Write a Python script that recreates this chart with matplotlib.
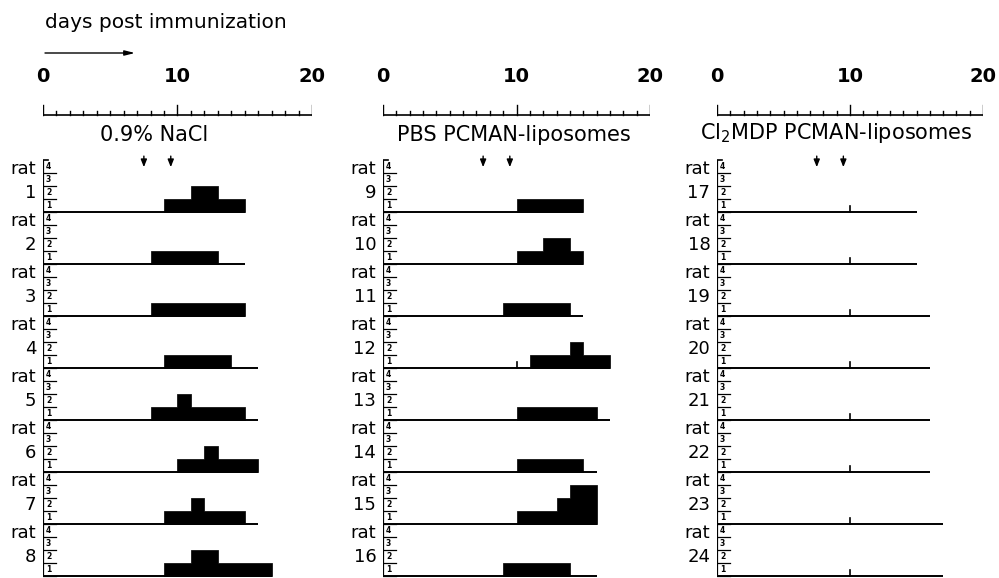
import matplotlib
matplotlib.use("Agg")
import matplotlib.pyplot as plt

plt.rcParams['font.family'] = ['DejaVu Sans']

# ---------------- data ----------------
groups = ["0.9% NaCl", "PBS PCMAN-liposomes", "Cl$_2$MDP PCMAN-liposomes"]
rat_ids = [list(range(1, 9)), list(range(9, 17)), list(range(17, 25))]

# first day with clinical signs (None = no signs)
onset_days = [
    [9, 8, 8, 9, 8, 10, 9, 9],
    [10, 10, 9, 11, 10, 10, 10, 9],
    [None, None, None, None, None, None, None, None],
]
# daily clinical scores from onset day on
daily_scores = [
    [[1, 1, 2, 2, 1, 1],
     [1, 1, 1, 1, 1],
     [1, 1, 1, 1, 1, 1, 1],
     [1, 1, 1, 1, 1],
     [1, 1, 2, 1, 1, 1, 1],
     [1, 1, 2, 1, 1, 1],
     [1, 1, 2, 1, 1, 1],
     [1, 1, 2, 2, 1, 1, 1, 1]],
    [[1, 1, 1, 1, 1],
     [1, 1, 2, 2, 1],
     [1, 1, 1, 1, 1],
     [1, 1, 1, 2, 1, 1],
     [1, 1, 1, 1, 1, 1],
     [1, 1, 1, 1, 1],
     [1, 1, 1, 2, 3, 3],
     [1, 1, 1, 1, 1]],
    [[], [], [], [], [], [], [], []],
]
# last day of observation
obs_end = [
    [15, 15, 15, 16, 16, 16, 16, 17],
    [15, 15, 15, 17, 17, 16, 16, 16],
    [15, 15, 16, 16, 16, 16, 17, 17],
]
# rats with a small mark at day 10
marked_rats = [12, 17, 18, 19, 20, 21, 22, 23, 24]
mark_day = 10
injection_days = [7.5, 9.5]
scale_labels = [0, 10, 20]
score_levels = [1, 2, 3, 4]

# ---------------- layout ----------------
W, H = 999, 578
fig = plt.figure(figsize=(W / 100, H / 100), dpi=100)

day0_px = [43, 383, 717]
day20_px = [312, 650, 983]
title_x = [8.25, 9.8, 8.95]
title_y = [33.9, 33.9, 34.1]
LV = 13.0  # pixels per score level
ybot = -2 / LV
ytop = ybot + H / LV

for p in range(3):
    ax = fig.add_axes([day0_px[p] / W, 0, (day20_px[p] - day0_px[p]) / W, 1])
    ax.set_xlim(0, 20)
    ax.set_ylim(ybot, ytop)
    ax.axis('off')

    # ruler
    ry = (H - 115 - 2) / LV
    ax.plot([0, 20], [ry, ry], color='black', lw=1.2, solid_capstyle='butt')
    for d in range(21):
        h = 0.77 if d in scale_labels else 0.32
        ax.plot([d, d], [ry, ry + h], color='black', lw=1.0)
    for d in scale_labels:
        ax.text(d, (H - 77 - 2) / LV, str(d), ha='center', va='center',
                fontsize=14, fontweight='bold')
    ax.text(title_x[p], title_y[p], groups[p], ha='center', va='center', fontsize=15)

    for d in injection_days:
        ax.annotate('', xy=(d, 31.45), xytext=(d, 32.3),
                    arrowprops=dict(arrowstyle='-|>,head_width=0.18,head_length=0.45',
                                    color='black', lw=1.0, mutation_scale=10,
                                    shrinkA=0, shrinkB=0))

    # vertical score axis
    ax.plot([0, 0], [0, 32], color='black', lw=1.6, solid_capstyle='butt')
    ax.plot([0, 0.4], [32, 32], color='black', lw=1.2)

    for r in range(8):
        base = (7 - r) * 4
        rid = rat_ids[p][r]
        ax.plot([0, obs_end[p][r]], [base, base], color='black', lw=1.4,
                solid_capstyle='butt')
        sc = daily_scores[p][r]
        if sc:
            on = onset_days[p][r]
            xs = [on + i for i in range(len(sc) + 1)]
            ys = [base + s for s in sc] + [base + sc[-1]]
            ax.fill_between(xs, base, ys, step='post', color='black', lw=0.5,
                            edgecolor='black')
        if rid in marked_rats:
            ax.plot([mark_day, mark_day], [base, base + 0.45], color='black', lw=1.2)
        for lv in score_levels:
            ax.plot([0, 0.95], [base + lv - 1, base + lv - 1], color='black', lw=0.9)
            ax.text(0.22, base + lv - 0.5, str(lv), ha='left', va='center',
                    fontsize=5.5, fontweight='bold')
        ax.text(-0.5, base + 3.3, "rat", ha='right', va='center', fontsize=13)
        ax.text(-0.5, base + 1.5, str(rid), ha='right', va='center', fontsize=13)

# header
fig.text(45 / W, 1 - 22 / H, "days post immunization", ha='left', va='center', fontsize=14.5)
fig.add_artist(matplotlib.patches.FancyArrowPatch(
    (45 / W, 1 - 53 / H), (135 / W, 1 - 53 / H), transform=fig.transFigure,
    arrowstyle='-|>,head_width=0.15,head_length=0.6', mutation_scale=10,
    color='black', lw=1.0, shrinkA=0, shrinkB=0))

fig.savefig("out.png", dpi=100)
